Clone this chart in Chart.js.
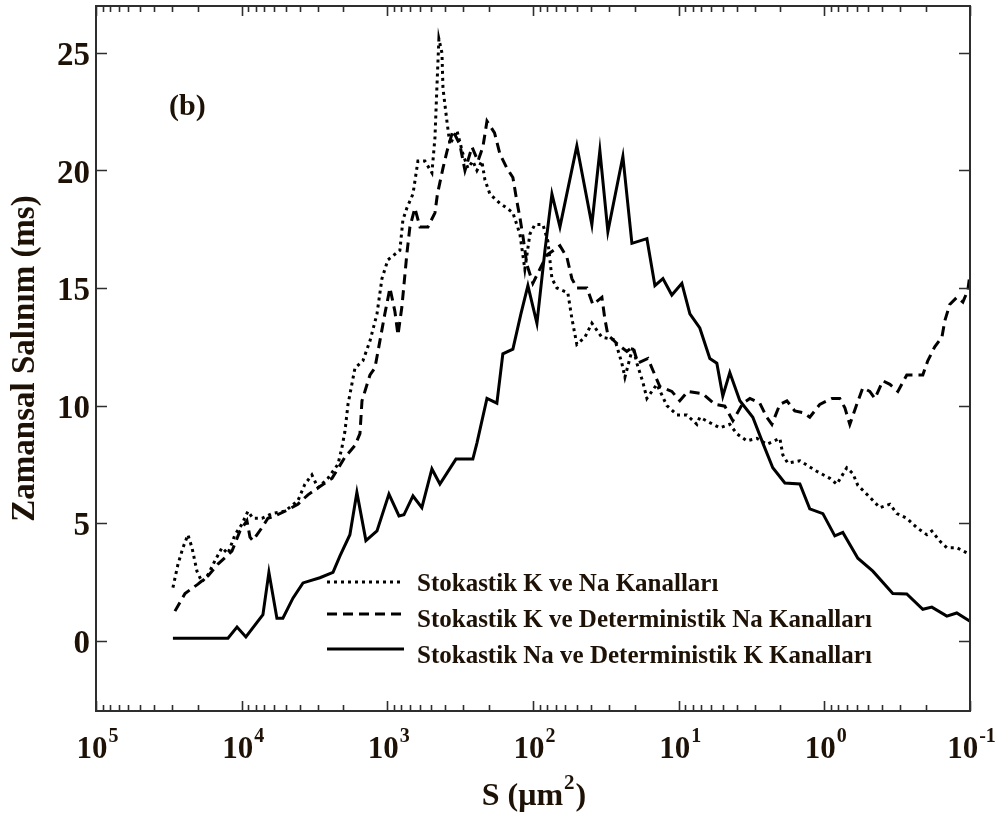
<!DOCTYPE html>
<html>
<head>
<meta charset="utf-8">
<script src="https://cdn.jsdelivr.net/npm/chart.js@4.4.1/dist/chart.umd.min.js"></script>
<style>
  html, body { margin: 0; padding: 0; background: #fff; }
  #wrap { width: 999px; height: 818px; }
</style>
</head>
<body>
<div id="wrap"><canvas id="chart"></canvas></div>
<script>
// Membrane area S is stored as log10(S / µm²); times are in ms.

// Stokastik K ve Na Kanalları (dotted)
const logS_KNa = [4.472, 4.437, 4.403, 4.369, 4.341, 4.307, 4.273, 4.231, 4.183, 4.135,
  4.094, 4.046, 3.998, 3.957, 3.923, 3.861, 3.792, 3.703, 3.614, 3.566,
  3.518, 3.476, 3.408, 3.339, 3.312, 3.291, 3.270, 3.222, 3.168, 3.119,
  3.071, 3.037, 2.996, 2.914, 2.893, 2.866, 2.824, 2.790, 2.742, 2.694,
  2.673, 2.660, 2.646, 2.625, 2.618, 2.591, 2.570, 2.522, 2.481, 2.447,
  2.413, 2.385, 2.351, 2.330, 2.296, 2.227, 2.179, 2.138, 2.090, 2.056,
  2.021, 1.987, 1.932, 1.898, 1.870, 1.836, 1.761, 1.733, 1.699, 1.644,
  1.596, 1.527, 1.438, 1.390, 1.369, 1.314, 1.287, 1.246, 1.218, 1.150,
  1.081, 1.012, 0.944, 0.875, 0.855, 0.765, 0.717, 0.649, 0.601, 0.532,
  0.463, 0.395, 0.305, 0.285, 0.251, 0.168, 0.052, -0.038, -0.086, -0.154,
  -0.196, -0.230, -0.312, -0.381, -0.450, -0.498, -0.566, -0.635, -0.704, -0.738,
  -0.793, -0.841, -0.909, -1.0];
const time_KNa = [2.25, 3.25, 3.95, 4.5, 3.95, 2.95, 2.5, 2.8, 3.4, 3.95,
  3.7, 4.5, 4.95, 5.5, 5.2, 5.2, 5.4, 5.5, 5.95, 6.65,
  7.05, 6.5, 6.9, 7.5, 8.2, 8.9, 10.05, 11.6, 11.9, 12.75,
  13.9, 15.4, 16.2, 16.6, 17.9, 18.4, 19.0, 20.4, 20.4, 19.9,
  21.4, 23.5, 25.6, 25.0, 23.5, 22.1, 21.1, 21.7, 20.7, 20.1,
  20.4, 20.0, 20.4, 19.6, 19.0, 18.6, 18.4, 18.2, 17.3, 15.8,
  17.3, 17.7, 17.7, 17.0, 15.4, 15.0, 14.8, 13.7, 12.6, 12.9,
  13.5, 12.9, 12.8, 11.8, 11.2, 12.5, 11.8, 11.0, 10.3, 10.9,
  10.0, 9.6, 9.6, 9.2, 9.5, 9.2, 9.05, 9.2, 8.8, 8.5,
  8.6, 8.35, 8.6, 7.9, 7.55, 7.65, 7.2, 6.9, 6.65, 7.35,
  7.1, 6.6, 6.1, 5.65, 5.8, 5.4, 5.2, 4.8, 4.5, 4.66,
  4.23, 3.95, 3.95, 3.66];

// Stokastik K ve Deterministik Na Kanalları (dashed)
const logS_K = [4.458, 4.389, 4.300, 4.231, 4.163, 4.067, 4.012, 3.964, 3.943, 3.923,
  3.861, 3.820, 3.774, 3.703, 3.614, 3.545, 3.476, 3.380, 3.291, 3.222,
  3.188, 3.174, 3.119, 3.085, 3.051, 3.017, 2.982, 2.948, 2.927, 2.900,
  2.866, 2.845, 2.811, 2.776, 2.721, 2.673, 2.656, 2.618, 2.591, 2.550,
  2.502, 2.467, 2.419, 2.378, 2.344, 2.316, 2.264, 2.227, 2.179, 2.138,
  2.111, 2.090, 2.069, 2.042, 2.001, 1.953, 1.905, 1.815, 1.767, 1.733,
  1.699, 1.630, 1.589, 1.527, 1.507, 1.486, 1.417, 1.356, 1.314, 1.280,
  1.211, 1.177, 1.129, 1.047, 0.992, 0.937, 0.834, 0.752, 0.683, 0.628,
  0.559, 0.511, 0.443, 0.395, 0.360, 0.305, 0.257, 0.203, 0.148, 0.100,
  0.031, -0.052, -0.106, -0.141, -0.175, -0.223, -0.264, -0.312, -0.347, -0.402,
  -0.450, -0.505, -0.566, -0.676, -0.710, -0.758, -0.807, -0.827, -0.861, -0.909,
  -0.951, -0.985, -1.0];
const time_K = [1.25, 2.0, 2.4, 2.75, 3.25, 3.8, 4.65, 5.1, 4.4, 4.25,
  4.8, 5.2, 5.3, 5.5, 5.8, 6.2, 6.5, 6.9, 7.8, 8.3,
  8.8, 10.2, 11.3, 11.6, 12.75, 13.9, 15.0, 14.0, 13.0, 14.2,
  16.45, 17.6, 18.4, 17.6, 17.6, 18.2, 19.0, 20.1, 20.8, 21.7,
  21.1, 20.0, 21.0, 20.4, 21.0, 22.1, 21.6, 20.7, 20.1, 19.7,
  18.7, 18.0, 17.2, 16.0, 15.2, 15.8, 16.4, 16.8, 16.3, 15.4,
  15.0, 15.0, 14.3, 14.6, 13.7, 13.0, 12.6, 12.3, 12.5, 11.8,
  12.0, 11.5, 10.8, 10.6, 10.2, 10.6, 10.5, 10.05, 9.97, 9.35,
  10.1, 10.3, 10.1, 9.5, 9.2, 10.05, 10.2, 9.77, 9.7, 9.5,
  10.05, 10.3, 10.3, 9.9, 9.2, 10.05, 10.75, 10.6, 10.3, 11.05,
  10.9, 10.6, 11.3, 11.3, 11.9, 12.5, 12.9, 13.6, 14.3, 14.6,
  14.4, 14.9, 15.6];

// Stokastik Na ve Deterministik K Kanalları (solid)
const logS_Na = [4.472, 4.094, 4.032, 3.971, 3.854, 3.813, 3.758, 3.717, 3.648, 3.579,
  3.463, 3.373, 3.325, 3.257, 3.209, 3.147, 3.071, 2.989, 2.920, 2.886,
  2.824, 2.763, 2.694, 2.639, 2.529, 2.413, 2.385, 2.316, 2.248, 2.207,
  2.138, 2.083, 2.035, 1.973, 1.918, 1.870, 1.815, 1.699, 1.596, 1.541,
  1.486, 1.383, 1.321, 1.218, 1.163, 1.108, 1.047, 0.978, 0.923, 0.855,
  0.786, 0.738, 0.697, 0.649, 0.580, 0.491, 0.422, 0.354, 0.271, 0.168,
  0.100, 0.010, -0.072, -0.127, -0.230, -0.333, -0.470, -0.566, -0.676, -0.738,
  -0.841, -0.909, -1.0];
const time_Na = [0.1, 0.1, 0.57, 0.15, 1.1, 2.9, 0.95, 0.95, 1.8, 2.45,
  2.67, 2.9, 3.6, 4.5, 6.3, 4.25, 4.66, 6.23, 5.3, 5.35,
  6.15, 5.65, 7.3, 6.66, 7.72, 7.72, 8.4, 10.3, 10.1, 12.2,
  12.4, 13.9, 15.1, 13.5, 16.6, 19.0, 17.6, 21.05, 17.7, 20.85,
  17.4, 20.6, 16.9, 17.1, 15.1, 15.4, 14.7, 15.2, 13.9, 13.3,
  12.0, 11.8, 10.4, 11.4, 10.2, 9.5, 8.4, 7.35, 6.7, 6.66,
  5.6, 5.4, 4.45, 4.6, 3.5, 2.95, 2.0, 1.98, 1.33, 1.42,
  1.04, 1.17, 0.82];

const xTickExponents = [5, 4, 3, 2, 1, 0, -1];
const yTickValues = [0, 5, 10, 15, 20, 25];

const ink = '#1e1206';
const serif = '"Liberation Serif", "Times New Roman", serif';

function points(logS, vals) {
  return logS.map((e, i) => ({ x: Math.pow(10, e), y: vals[i] }));
}

// frame, inward ticks, tick labels, titles and legend
const axesPlugin = {
  id: 'axesPlugin',
  afterDatasetsDraw(chart) {
    const { ctx, chartArea: a, scales: { x, y } } = chart;
    ctx.save();

    ctx.strokeStyle = '#2e2e2e';
    ctx.lineWidth = 2;
    ctx.strokeRect(a.left, a.top, a.right - a.left, a.bottom - a.top);

    // log ticks on top and bottom
    ctx.lineWidth = 1.6;
    ctx.beginPath();
    for (let k = -1; k <= 5; k++) {
      for (let m = 1; m <= 9; m++) {
        const v = m * Math.pow(10, k);
        if (v > 1e5 * 1.001) continue;
        const px = Math.round(x.getPixelForValue(v)) + 0.5;
        if (px < a.left - 1 || px > a.right + 1) continue;
        const len = m === 1 ? 10 : 6;
        ctx.moveTo(px, a.bottom); ctx.lineTo(px, a.bottom - len);
        ctx.moveTo(px, a.top); ctx.lineTo(px, a.top + len);
      }
    }
    // y ticks on both sides
    yTickValues.forEach(v => {
      const py = Math.round(y.getPixelForValue(v)) + 0.5;
      ctx.moveTo(a.left, py); ctx.lineTo(a.left + 11, py);
      ctx.moveTo(a.right, py); ctx.lineTo(a.right - 11, py);
    });
    ctx.stroke();

    ctx.fillStyle = ink;

    // y tick labels
    ctx.font = 'bold 33px ' + serif;
    ctx.textAlign = 'right';
    ctx.textBaseline = 'alphabetic';
    yTickValues.forEach(v => {
      ctx.fillText(String(v), a.left - 6, y.getPixelForValue(v) + 12);
    });

    // x tick labels 10^k
    ctx.textAlign = 'left';
    xTickExponents.forEach(k => {
      const px = x.getPixelForValue(Math.pow(10, k));
      ctx.font = 'bold 31px ' + serif;
      const w1 = ctx.measureText('10').width;
      ctx.font = 'bold 20px ' + serif;
      const w2 = ctx.measureText(String(k)).width;
      const left = px - (w1 + w2) / 2 + 1;
      ctx.font = 'bold 31px ' + serif;
      ctx.fillText('10', left, 758);
      ctx.font = 'bold 20px ' + serif;
      ctx.fillText(String(k), left + w1 + 1, 742);
    });

    // x title: S (µm²)
    ctx.font = 'bold 32px ' + serif;
    const t1 = 'S (\u03bcm', t3 = ')';
    const w1 = ctx.measureText(t1).width;
    const w3 = ctx.measureText(t3).width;
    ctx.font = 'bold 21px ' + serif;
    const w2 = ctx.measureText('2').width;
    let tx = (a.left + a.right) / 2 - (w1 + w2 + w3) / 2;
    ctx.font = 'bold 32px ' + serif;
    ctx.fillText(t1, tx, 805);
    ctx.font = 'bold 21px ' + serif;
    ctx.fillText('2', tx + w1 + 1, 789);
    ctx.font = 'bold 32px ' + serif;
    ctx.fillText(t3, tx + w1 + w2 + 2, 805);

    // y title
    ctx.save();
    ctx.translate(34, (a.top + a.bottom) / 2);
    ctx.rotate(-Math.PI / 2);
    ctx.textAlign = 'center';
    ctx.font = 'bold 33px ' + serif;
    ctx.fillText('Zamansal Salınım (ms)', 0, 0);
    ctx.restore();

    // panel tag
    ctx.font = 'bold 30px ' + serif;
    ctx.textAlign = 'left';
    ctx.fillText('(b)', 169, 115);

    // legend
    const rows = [582, 614, 649];
    const textBase = [591, 627, 663];
    chart.data.datasets.forEach((ds, i) => {
      ctx.save();
      ctx.strokeStyle = '#000';
      ctx.lineWidth = 3;
      ctx.setLineDash(ds.borderDash || []);
      ctx.beginPath();
      ctx.moveTo(327, rows[i]);
      ctx.lineTo(404, rows[i]);
      ctx.stroke();
      ctx.restore();
      ctx.font = 'bold 25px ' + serif;
      ctx.fillStyle = ink;
      ctx.fillText(ds.label, 417, textBase[i]);
    });

    ctx.restore();
  }
};

new Chart(document.getElementById('chart'), {
  type: 'line',
  data: {
    datasets: [{
      label: 'Stokastik K ve Na Kanalları',
      data: points(logS_KNa, time_KNa),
      borderColor: '#000',
      borderWidth: 3,
      borderDash: [3, 4],
      pointRadius: 0,
      tension: 0,
      fill: false
    }, {
      label: 'Stokastik K ve Deterministik Na Kanalları',
      data: points(logS_K, time_K),
      borderColor: '#000',
      borderWidth: 3,
      borderDash: [10, 6],
      pointRadius: 0,
      tension: 0,
      fill: false
    }, {
      label: 'Stokastik Na ve Deterministik K Kanalları',
      data: points(logS_Na, time_Na),
      borderColor: '#000',
      borderWidth: 3,
      pointRadius: 0,
      tension: 0,
      fill: false
    }]
  },
  options: {
    responsive: true,
    maintainAspectRatio: false,
    animation: false,
    devicePixelRatio: 1,
    layout: { padding: { left: 96, right: 29, top: 6, bottom: 107 } },
    plugins: { legend: { display: false }, tooltip: { enabled: false } },
    scales: {
      x: { type: 'logarithmic', reverse: true, min: 0.1, max: 1e5, display: false },
      y: { type: 'linear', min: -3, max: 27, display: false }
    }
  },
  plugins: [axesPlugin]
});
</script>
</body>
</html>
